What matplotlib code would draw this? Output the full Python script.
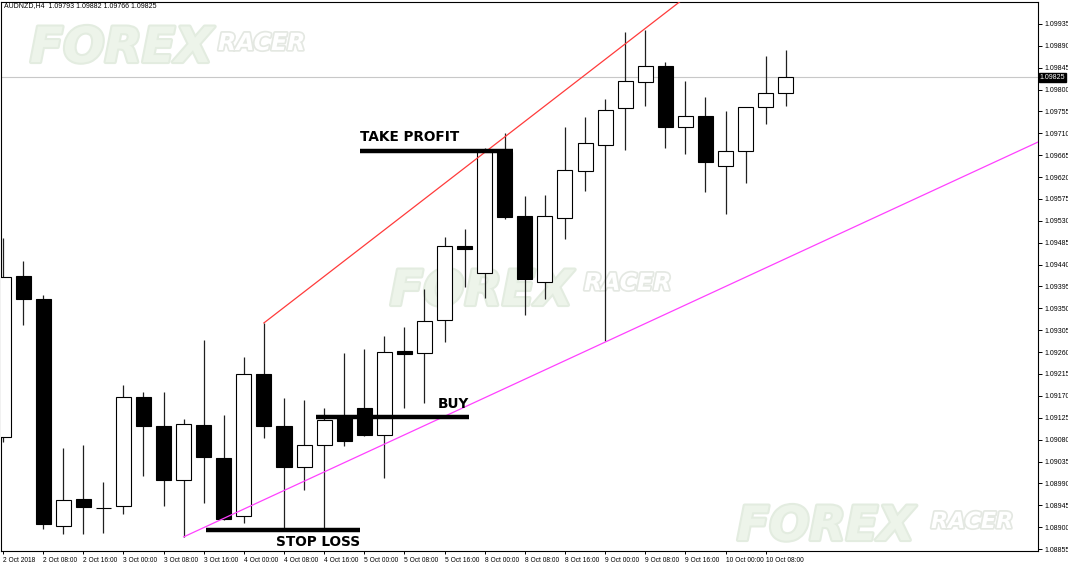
import matplotlib.pyplot as plt
import matplotlib.patheffects as pe
from matplotlib.transforms import blended_transform_factory

# H4 candles, index 0 = 2 Oct 00:00
opens = [1.09085, 1.09417, 1.09369, 1.08902, 1.08958, 1.08939, 1.08943, 1.09168, 1.09108, 1.08997,
         1.09110, 1.09042, 1.08923, 1.09215, 1.09108, 1.09024, 1.09069, 1.09125, 1.09145, 1.09090,
         1.09262, 1.09258, 1.09326, 1.09478, 1.09423, 1.09672, 1.09540, 1.09404, 1.09536, 1.09633,
         1.09686, 1.09762, 1.09816, 1.09849, 1.09723, 1.09746, 1.09643, 1.09674, 1.09764, 1.09793]
highs = [1.09495, 1.09447, 1.09378, 1.09063, 1.09069, 1.08993, 1.09192, 1.09178, 1.09178, 1.09122,
         1.09285, 1.09131, 1.09250, 1.09320, 1.09166, 1.09162, 1.09145, 1.09258, 1.09266, 1.09293,
         1.09312, 1.09390, 1.09497, 1.09513, 1.09680, 1.09711, 1.09581, 1.09583, 1.09723, 1.09744,
         1.09781, 1.09919, 1.09923, 1.09857, 1.09818, 1.09785, 1.09756, 1.09764, 1.09869, 1.09882]
lows = [1.09075, 1.09316, 1.08896, 1.08886, 1.08886, 1.08888, 1.08927, 1.09005, 1.08943, 1.08880,
        1.08950, 1.08915, 1.08908, 1.09083, 1.08894, 1.08976, 1.08894, 1.09067, 1.09088, 1.09001,
        1.09145, 1.09155, 1.09281, 1.09394, 1.09371, 1.09534, 1.09336, 1.09369, 1.09493, 1.09592,
        1.09283, 1.09676, 1.09766, 1.09680, 1.09668, 1.09589, 1.09544, 1.09608, 1.09729, 1.09766]
closes = [1.09415, 1.09369, 1.08906, 1.08956, 1.08941, 1.08939, 1.09168, 1.09108, 1.08997, 1.09112,
          1.09044, 1.08917, 1.09215, 1.09108, 1.09024, 1.09069, 1.09120, 1.09077, 1.09090, 1.09260,
          1.09256, 1.09324, 1.09478, 1.09472, 1.09672, 1.09538, 1.09410, 1.09540, 1.09635, 1.09690,
          1.09758, 1.09818, 1.09849, 1.09723, 1.09746, 1.09651, 1.09674, 1.09764, 1.09793, 1.09825]

date_labels = ["2 Oct 2018", "2 Oct 08:00", "2 Oct 16:00", "3 Oct 00:00", "3 Oct 08:00",
               "3 Oct 16:00", "4 Oct 00:00", "4 Oct 08:00", "4 Oct 16:00", "5 Oct 00:00",
               "5 Oct 08:00", "5 Oct 16:00", "8 Oct 00:00", "8 Oct 08:00", "8 Oct 16:00",
               "9 Oct 00:00", "9 Oct 08:00", "9 Oct 16:00", "10 Oct 00:00", "10 Oct 08:00"]
price_ticks = [1.08855, 1.08900, 1.08945, 1.08990, 1.09035, 1.09080, 1.09125, 1.09170, 1.09215,
               1.09260, 1.09305, 1.09350, 1.09395, 1.09440, 1.09485, 1.09530, 1.09575, 1.09620,
               1.09665, 1.09710, 1.09755, 1.09800, 1.09845, 1.09890, 1.09935]
last_price = 1.09825

# trend lines (two anchor points each, clipped by the axes)
red_line = ([13, 33.83], [1.09320, 1.09984])
magenta_line = ([9, 51.57], [1.08880, 1.09692])

# trade levels: label, x start, x end, price
levels = [("TAKE PROFIT", 17.8, 25.4, 1.09674),
          ("BUY", 15.6, 23.2, 1.09127),
          ("STOP LOSS", 10.1, 17.8, 1.08894)]

W, H = 1068, 564
fig = plt.figure(figsize=(W / 100, H / 100), dpi=100)
ax = fig.add_axes([1 / W, (H - 551) / H, 1037 / W, 549 / H])
ax.set_xlim(-0.1, 51.57)
ax.set_ylim(1.08851, 1.09980)


def px(x, y):
    # pixel position of the image -> axes fraction
    return (x - 1) / 1037, (551 - y) / 549


# watermarks
for fx, fy, rx, ry, big, small in [(30, 62, 218, 50, 35, 17),
                                   (390, 305, 584, 290, 35, 17),
                                   (737, 540, 931, 528, 34, 16)]:
    ax.text(*px(fx, fy), "FOREX", transform=ax.transAxes, fontsize=big, fontweight="heavy",
            style="italic", color="#edf4ea", va="baseline", ha="left", zorder=0.5,
            path_effects=[pe.withStroke(linewidth=3, foreground="#e3ece0")])
    ax.text(*px(rx, ry), "RACER", transform=ax.transAxes, fontsize=small, fontweight="heavy",
            style="italic", color="white", va="baseline", ha="left", zorder=0.6,
            path_effects=[pe.withStroke(linewidth=2.5, foreground="#e4e8e2")])

ax.axhline(last_price, color="#c8c8c8", lw=0.8, zorder=1)

x = list(range(len(opens)))
ax.vlines(x, lows, highs, color="#202020", lw=0.9, zorder=2)
bottoms = [min(o, c) for o, c in zip(opens, closes)]
heights = [abs(c - o) for o, c in zip(opens, closes)]
fills = ["white" if c >= o else "black" for o, c in zip(opens, closes)]
ax.bar(x, heights, bottom=bottoms, width=0.75, color=fills, edgecolor="black",
       linewidth=0.8, zorder=3)

ax.plot(*red_line, color="#ff3b3b", lw=0.9, zorder=4)
ax.plot(*magenta_line, color="#ff40ff", lw=0.9, zorder=4)

for label, x0, x1, p in levels:
    ax.hlines(p, x0, x1, color="black", lw=3.2, zorder=5)

tp, buy, sl = levels
ax.text(tp[1], tp[3] + 0.00014, tp[0], ha="left", va="bottom", fontsize=9.8,
        fontweight="bold", zorder=6)
ax.text(buy[2], buy[3] + 0.00012, buy[0], ha="right", va="bottom", fontsize=9.8,
        fontweight="bold", zorder=6)
ax.text(sl[2], sl[3] - 0.00010, sl[0], ha="right", va="top", fontsize=9.8,
        fontweight="bold", zorder=6)

small_font = "Liberation Sans"
ax.text(*px(4, 6), "AUDNZD,H4  1.09793 1.09882 1.09766 1.09825", transform=ax.transAxes,
        fontsize=5, family=small_font, va="center", ha="left", zorder=7)

ax.yaxis.tick_right()
ax.set_yticks(price_ticks)
ax.set_yticklabels([f"{t:.5f}" for t in price_ticks], family=small_font)
ax.tick_params(axis="y", labelsize=5, length=3, width=0.7, pad=1.5)
ax.set_xticks(list(range(0, 40, 2)))
ax.set_xticklabels(date_labels, ha="left", family=small_font)
ax.tick_params(axis="x", labelsize=4.8, length=2.5, width=0.7, pad=2)

trans = blended_transform_factory(ax.transAxes, ax.transData)
ax.text(1.0015, last_price, f"{last_price:.5f}", transform=trans, fontsize=5,
        family=small_font, color="white", va="center", ha="left", zorder=8,
        bbox=dict(boxstyle="square,pad=0.15", facecolor="black", edgecolor="black"))

for s in ax.spines.values():
    s.set_linewidth(0.8)

fig.savefig("out.png", dpi=100, facecolor="white")
